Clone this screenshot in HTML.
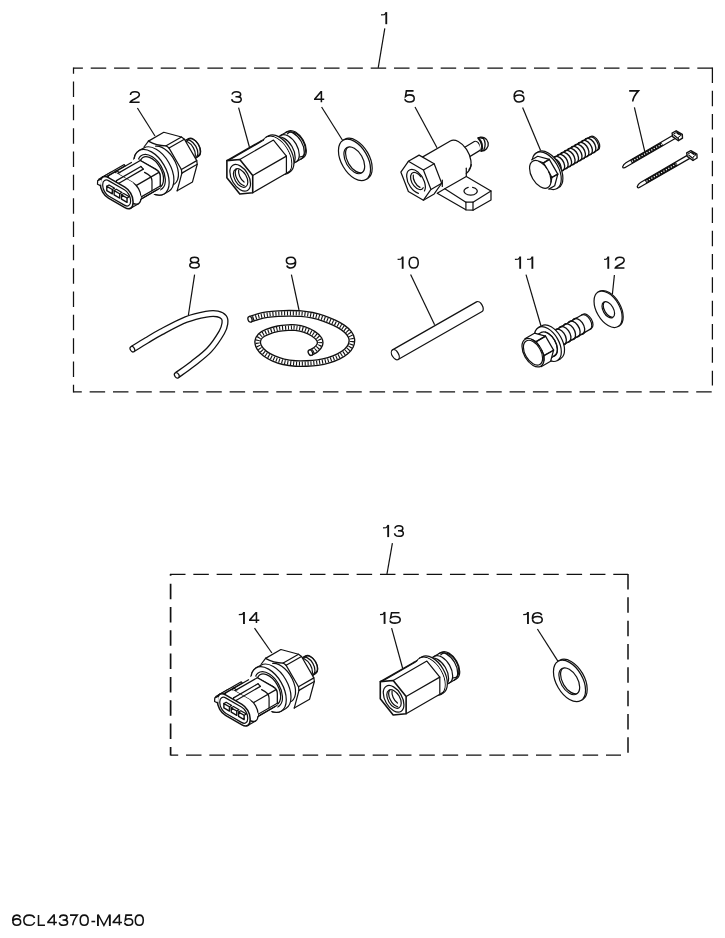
<!DOCTYPE html>
<html><head><meta charset="utf-8"><title>6CL4370-M450</title>
<style>
html,body{margin:0;padding:0;background:#fff;}
svg{display:block;}
body{font-family:"Liberation Sans",sans-serif;}
</style></head>
<body>
<svg width="725" height="938" viewBox="0 0 725 938">
<rect width="725" height="938" fill="#fff"/>

<g fill="none" stroke="#111" stroke-width="1.25" stroke-dasharray="15.5 7.83">
<line x1="73.5" y1="68" x2="712.4" y2="68" stroke-dashoffset="6.1"/>
<line x1="73.5" y1="391.8" x2="712" y2="391.8" stroke-dashoffset="7.2"/>
<line x1="73.5" y1="67.4" x2="73.5" y2="392.4" stroke-dashoffset="9.2"/>
<line x1="712.4" y1="67.4" x2="712.4" y2="385.5" stroke-dashoffset="0"/>
<line x1="170" y1="574.4" x2="628" y2="574.4" stroke-dashoffset="0" stroke-width="1.1"/>
<line x1="170.6" y1="755" x2="621" y2="755" stroke-dashoffset="7.9"/>
<line x1="170.6" y1="574" x2="170.6" y2="755.6" stroke-dashoffset="13.7" stroke-width="1.7"/>
<line x1="628" y1="574" x2="628" y2="753.2" stroke-dashoffset="0" stroke-width="1.5"/>
</g>
<g fill="none" stroke="#111" stroke-width="1.2" stroke-linecap="butt"><line x1="384.8" y1="28.3" x2="378.2" y2="67.9"/><line x1="137.4" y1="108" x2="155" y2="136"/><line x1="238.6" y1="107.6" x2="249.4" y2="147"/><line x1="321.6" y1="107" x2="343" y2="141"/><line x1="415" y1="107" x2="437" y2="147.8"/><line x1="522.6" y1="107.4" x2="540.6" y2="150.4"/><line x1="634.4" y1="107.4" x2="644.8" y2="151.6"/><line x1="194.6" y1="274.6" x2="188.4" y2="315"/><line x1="291.4" y1="274.6" x2="299" y2="310"/><line x1="410.6" y1="274.6" x2="434.6" y2="324.7"/><line x1="526" y1="274.6" x2="541" y2="326"/><line x1="614.4" y1="275" x2="612.4" y2="294"/><line x1="392.4" y1="543.1" x2="386.9" y2="574.3"/><line x1="254.5" y1="628.1" x2="271.9" y2="653"/><line x1="391.6" y1="628.1" x2="402.7" y2="668.5"/><line x1="537.4" y1="629" x2="558.2" y2="661.6"/></g>
<g fill="none" stroke="#111" stroke-width="1.55" stroke-linejoin="miter" stroke-linecap="butt">
<path d="M386.27,12.10 L386.27,24.20" stroke-width="1.86"/><path d="M381.00,14.94 L384.27,14.69 Q385.47,14.24 385.87,12.70" stroke-width="1.24"/>
<path d="M 130.46,94.95 C 130.46,92.73 132.06,91.68 134.90,91.68 C 137.74,91.68 139.34,92.84 139.34,94.73 C 139.34,96.74 137.26,97.69 134.71,98.95 C 132.06,100.22 130.46,101.06 130.18,102.23 L 139.62,102.23"/>
<path d="M 232.15,94.52 C 232.34,92.73 233.95,91.68 236.41,91.68 C 239.15,91.68 240.66,92.84 240.66,94.42 C 240.66,96.00 239.24,96.74 237.16,96.74 L 235.46,96.74 M 237.16,96.74 C 239.71,96.74 241.22,97.69 241.22,99.38 C 241.22,101.17 239.34,102.23 236.50,102.23 C 233.66,102.23 231.96,101.17 231.78,99.17"/>
<path d="M 321.39,102.23 L 321.39,91.68 L 320.92,91.68 L 314.77,98.95 L 314.77,99.27 L 324.22,99.27"/>
<path d="M 413.56,90.88 L 406.38,90.88 L 405.53,96.51 C 406.57,95.41 407.89,94.85 409.59,94.85 C 412.33,94.85 414.22,96.29 414.22,98.39 C 414.22,100.60 412.33,101.93 409.50,101.93 C 406.95,101.93 405.25,100.93 404.87,99.16"/>
<path d="M 523.44,93.45 C 522.95,91.78 521.49,90.78 519.25,90.78 C 516.03,90.78 514.17,93.01 514.17,96.68 C 514.17,100.14 516.03,101.93 519.15,101.93 C 521.98,101.93 523.93,100.59 523.93,98.36 C 523.93,96.24 521.98,94.90 519.25,94.90 C 516.61,94.90 514.56,96.24 514.27,97.91"/>
<path d="M 629.17,90.88 L 638.43,90.88 C 635.10,94.50 633.06,98.22 632.69,101.53"/>
<path d="M 194.50,257.27 C 191.95,257.27 190.44,258.35 190.44,259.96 C 190.44,261.57 191.95,262.54 194.50,262.54 C 197.05,262.54 198.56,261.57 198.56,259.96 C 198.56,258.35 197.05,257.27 194.50,257.27 Z M 194.50,262.54 C 191.66,262.54 189.78,263.62 189.78,265.34 C 189.78,266.95 191.66,268.02 194.50,268.02 C 197.34,268.02 199.22,266.95 199.22,265.34 C 199.22,263.62 197.34,262.54 194.50,262.54 Z"/>
<path d="M 286.84,265.44 C 287.30,267.06 288.69,268.02 290.81,268.02 C 293.87,268.02 295.62,265.88 295.62,262.33 C 295.62,259.00 293.87,257.27 290.91,257.27 C 288.22,257.27 286.38,258.56 286.38,260.71 C 286.38,262.76 288.22,264.05 290.81,264.05 C 293.31,264.05 295.25,262.76 295.53,261.14"/>
<path d="M402.67,256.50 L402.67,268.80" stroke-width="1.86"/><path d="M397.60,259.39 L400.67,259.14 Q401.87,258.69 402.27,257.10" stroke-width="1.24"/>
<path d="M 413.70,257.27 C 410.98,257.27 409.17,259.42 409.17,262.65 C 409.17,265.88 410.98,268.02 413.70,268.02 C 416.41,268.02 418.22,265.88 418.22,262.65 C 418.22,259.42 416.41,257.27 413.70,257.27 Z"/>
<path d="M520.17,256.50 L520.17,268.80" stroke-width="1.86"/><path d="M514.90,259.39 L518.17,259.14 Q519.37,258.69 519.77,257.10" stroke-width="1.24"/>
<path d="M532.37,256.50 L532.37,268.80" stroke-width="1.86"/><path d="M527.10,259.39 L530.37,259.14 Q531.57,258.69 531.97,257.10" stroke-width="1.24"/>
<path d="M608.27,256.50 L608.27,268.80" stroke-width="1.86"/><path d="M604.10,259.39 L606.27,259.14 Q607.47,258.69 607.87,257.10" stroke-width="1.24"/>
<path d="M 615.55,260.61 C 615.55,258.35 617.11,257.27 619.85,257.27 C 622.60,257.27 624.15,258.46 624.15,260.39 C 624.15,262.44 622.14,263.40 619.67,264.69 C 617.11,265.98 615.55,266.84 615.27,268.02 L 624.43,268.02"/>
<path d="M388.17,524.90 L388.17,537.10" stroke-width="1.86"/><path d="M383.00,527.77 L386.17,527.52 Q387.37,527.07 387.77,525.50" stroke-width="1.24"/>
<path d="M 394.93,528.55 C 395.10,526.74 396.59,525.67 398.86,525.67 C 401.40,525.67 402.80,526.85 402.80,528.44 C 402.80,530.04 401.49,530.79 399.56,530.79 L 397.99,530.79 M 399.56,530.79 C 401.93,530.79 403.32,531.75 403.32,533.45 C 403.32,535.26 401.57,536.33 398.95,536.33 C 396.32,536.33 394.75,535.26 394.57,533.24"/>
<path d="M243.97,611.90 L243.97,623.90" stroke-width="1.86"/><path d="M238.80,614.72 L241.97,614.47 Q243.17,614.02 243.57,612.50" stroke-width="1.24"/>
<path d="M 256.46,623.12 L 256.46,612.67 L 255.98,612.67 L 249.78,619.89 L 249.78,620.20 L 259.33,620.20"/>
<path d="M384.57,611.90 L384.57,623.90" stroke-width="1.86"/><path d="M380.00,614.72 L382.57,614.47 Q383.77,614.02 384.17,612.50" stroke-width="1.24"/>
<path d="M 399.49,612.67 L 391.55,612.67 L 390.61,618.00 C 391.76,616.96 393.22,616.44 395.10,616.44 C 398.13,616.44 400.22,617.80 400.22,619.78 C 400.22,621.87 398.13,623.12 395.00,623.12 C 392.18,623.12 390.30,622.18 389.88,620.51"/>
<path d="M527.97,611.90 L527.97,623.90" stroke-width="1.86"/><path d="M523.20,614.72 L525.97,614.47 Q527.17,614.02 527.57,612.50" stroke-width="1.24"/>
<path d="M 541.73,615.18 C 541.24,613.62 539.76,612.67 537.50,612.67 C 534.25,612.67 532.38,614.76 532.38,618.21 C 532.38,621.45 534.25,623.12 537.40,623.12 C 540.25,623.12 542.23,621.87 542.23,619.78 C 542.23,617.80 540.25,616.54 537.50,616.54 C 534.84,616.54 532.77,617.80 532.47,619.36"/>
<path d="M 20.28,917.56 C 19.88,916.04 18.69,915.12 16.86,915.12 C 14.24,915.12 12.72,917.15 12.72,920.50 C 12.72,923.65 14.24,925.27 16.78,925.27 C 19.08,925.27 20.67,924.06 20.67,922.03 C 20.67,920.10 19.08,918.88 16.86,918.88 C 14.71,918.88 13.04,920.10 12.80,921.62"/>
<path d="M 34.58,918.07 C 33.82,916.14 31.89,915.12 29.42,915.12 C 25.98,915.12 23.83,917.15 23.83,920.20 C 23.83,923.25 25.98,925.27 29.42,925.27 C 32.00,925.27 33.93,924.16 34.58,922.13"/>
<path d="M 38.52,915.12 L 38.52,925.27 L 44.98,925.27"/>
<path d="M 54.19,925.27 L 54.19,915.12 L 53.74,915.12 L 47.93,922.13 L 47.93,922.43 L 56.88,922.43"/>
<path d="M 59.66,917.87 C 59.82,916.14 61.22,915.12 63.37,915.12 C 65.76,915.12 67.08,916.24 67.08,917.76 C 67.08,919.29 65.84,920.00 64.03,920.00 L 62.54,920.00 M 64.03,920.00 C 66.25,920.00 67.58,920.91 67.58,922.53 C 67.58,924.26 65.92,925.27 63.45,925.27 C 60.98,925.27 59.49,924.26 59.33,922.33"/>
<path d="M 70.02,915.12 L 77.27,915.12 C 74.66,918.58 73.07,922.13 72.78,925.27"/>
<path d="M 84.20,915.12 C 81.81,915.12 80.22,917.15 80.22,920.20 C 80.22,923.25 81.81,925.27 84.20,925.27 C 86.58,925.27 88.17,923.25 88.17,920.20 C 88.17,917.15 86.58,915.12 84.20,915.12 Z"/>
<path d="M 91.42,921.52 L 95.17,921.52"/>
<path d="M97.94,914.40 L97.94,926.00 M109.86,914.40 L109.86,926.00" stroke-width="1.89"/><path d="M98.34,914.70 L103.90,925.40 L109.46,914.70" stroke-width="1.38"/>
<path d="M 119.35,925.27 L 119.35,915.12 L 118.91,915.12 L 113.22,922.13 L 113.22,922.43 L 121.97,922.43"/>
<path d="M 132.11,915.12 L 125.99,915.12 L 125.27,920.30 C 126.15,919.29 127.28,918.78 128.73,918.78 C 131.06,918.78 132.68,920.10 132.68,922.03 C 132.68,924.06 131.06,925.27 128.65,925.27 C 126.48,925.27 125.03,924.36 124.71,922.74"/>
<path d="M 139.30,915.12 C 136.91,915.12 135.32,917.15 135.32,920.20 C 135.32,923.25 136.91,925.27 139.30,925.27 C 141.69,925.27 143.28,923.25 143.28,920.20 C 143.28,917.15 141.69,915.12 139.30,915.12 Z"/>
</g>
<g fill="none" stroke="#111" stroke-width="1.22" stroke-linejoin="round" stroke-linecap="round">

<!-- p02.frag -->
<g id="sensor">
<path d="M173.05,148.27 L188.5,138.57 A10.2,5.89 60 0 1 198.7,156.23 L183.25,165.93 Z" fill="#fff"/>
<path d="M187.52,140.62 A9.49,5.48 60 1 1 196.95,156.04" />
<path d="M185.13,140.56 A10.2,5.89 60 1 1 195.29,158.16" />
<path d="M182.62,142.01 A10.2,5.89 60 1 1 192.78,159.61" />
<path d="M148.45,141.1 L163.8,132.25 L183.4,137.5 L197.75,162.35 L192.5,181.95 L177.15,190.8 L157.55,185.55 L143.2,160.7 Z" fill="#fff" stroke="none"/>
<path d="M148.45,141.1 L163.8,132.25 L181.47,136.98 L184.4,139.23 L196.75,160.62 L197.23,164.28 L192.5,181.95 L177.15,190.8" />
<line x1="166.12" y1="145.83" x2="181.47" y2="136.98" />
<line x1="169.05" y1="148.08" x2="184.4" y2="139.23" />
<line x1="166.12" y1="145.83" x2="169.05" y2="148.08" />
<line x1="181.4" y1="169.47" x2="196.75" y2="160.62" />
<line x1="181.88" y1="173.13" x2="197.23" y2="164.28" />
<line x1="181.4" y1="169.47" x2="181.88" y2="173.13" />
<line x1="169.05" y1="148.08" x2="181.4" y2="169.47" />
<line x1="181.88" y1="173.13" x2="177.15" y2="190.8" />
<path d="M148.45,141.1 Q156.29,145.66 166.12,145.83" />
<line x1="148.45" y1="141.1" x2="144" y2="147" />
<path d="M155.63,146.11 A21.5,12.41 60 1 1 169.66,185.32" />
<path d="M139,150.65 L143.8,147.95 A25,14.43 60 0 1 168.8,191.25 L164,193.95 A25,14.43 60 0 1 139,150.65 Z" fill="#fff"/>
<ellipse cx="151.5" cy="172.3" rx="25" ry="14.43" transform="rotate(60 151.5 172.3)" fill="#fff"/>
<path d="M137.85,161.64 A19.6,11.32 60 1 1 153.91,189.45" />
<path d="M140.61,160.14 A17,9.81 60 1 1 156.58,187.81" />
<path d="M112.58,171.85 L136.31,158.15 L160.21,171.95 L160.21,190.55 L136.48,204.25 L112.58,190.45 Z" fill="#fff" stroke="none"/>
<path d="M140.29,160.45 L156.23,169.65 A5.63,3.25 60 0 1 160.21,176.55 L160.21,185.95 A5.63,3.25 60 0 1 156.23,188.25 L140.29,179.05 A5.63,3.25 60 0 1 136.31,172.15 L136.31,162.75 A5.63,3.25 60 0 1 140.29,160.45 Z" fill="#fff"/>
<path d="M112.58,171.85 L136.31,158.15 L160.21,171.95 L160.21,190.55 L136.48,204.25 L112.58,190.45 Z" fill="#fff" stroke="none"/>
<line x1="116.56" y1="174.15" x2="140.29" y2="160.45" />
<line x1="135.18" y1="186.1" x2="158.91" y2="172.4" />
<line x1="136.48" y1="199.65" x2="160.21" y2="185.95" />
<line x1="134.32" y1="203" x2="158.05" y2="189.3" />
<line x1="136.05" y1="202" x2="159.78" y2="188.3" />
<path d="M156.23,169.65 A5.63,3.25 60 0 1 160.21,176.55 L160.21,185.95" />
<line x1="140.29" y1="160.45" x2="156.23" y2="169.65" />
<path d="M144.54,172.4 L148,174.4 A5.63,3.25 60 0 1 151.98,181.3 L151.98,190.7" />
<path d="M116.3,173 L132.76,182.5 A11.51,6.65 60 0 1 140.9,196.6 L140.9,198.4 A11.51,6.65 60 0 1 132.76,203.1 L116.3,193.6 A11.51,6.65 60 0 1 108.16,179.5 L108.16,177.7 A11.51,6.65 60 0 1 116.3,173 Z" fill="#fff"/>
<path d="M100.28,182.25 L108.16,177.7 L116.3,173 L132.76,182.5 L140.9,196.6 L140.9,198.4 L132.76,203.1 L124.88,207.65 Z" fill="#fff" stroke="none"/>
<line x1="102.67" y1="176.98" x2="110.55" y2="172.43" />
<line x1="130.63" y1="208.22" x2="138.51" y2="203.67" />
<path d="M98.68,179.28 L124.23,164.53 L125.23,165.78 L99.68,180.53 Z" fill="#fff"/>
<line x1="107.64" y1="176.2" x2="131.46" y2="162.45" />
<line x1="116.04" y1="170.55" x2="119.85" y2="172.75" />
<line x1="116.48" y1="180.6" x2="140.9" y2="166.5" />
<line x1="118.9" y1="183.2" x2="143.32" y2="169.1" />
<line x1="140.9" y1="166.5" x2="143.32" y2="169.1" />
<path d="M116.48,180.6 q-0.6,1.8 0.3,3.4" />
<path d="M118.9,183.2 q-0.6,1.8 0.3,3.4" />
<path d="M108.42,177.55 L124.88,187.05 A11.51,6.65 60 0 1 133.02,201.15 L133.02,202.95 A11.51,6.65 60 0 1 124.88,207.65 L108.42,198.15 A11.51,6.65 60 0 1 100.28,184.05 L100.28,182.25 A11.51,6.65 60 0 1 108.42,177.55 Z" fill="#fff" stroke-width="1.55"/>
<path d="M108.94,180.85 L124.36,189.75 A8.82,5.09 60 0 1 130.59,200.55 L130.59,201.55 A8.82,5.09 60 0 1 124.36,205.15 L108.94,196.25 A8.82,5.09 60 0 1 102.71,185.45 L102.71,184.45 A8.82,5.09 60 0 1 108.94,180.85 Z" />
<path d="M101.48,178.85 L97.68,180.65 L97.48,184.25 L100.48,185.65" fill="#fff"/>
<path d="M106.78,186.3 L112.32,189.5 L112.32,193.9 L106.78,190.7 Z" stroke-width="1.4"/>
<path d="M106.78,186.3 L109.03,185 L114.57,188.2 L112.32,189.5" stroke-width="1.3"/>
<path d="M114.14,190.55 L119.68,193.75 L119.68,198.15 L114.14,194.95 Z" stroke-width="1.4"/>
<path d="M114.14,190.55 L116.39,189.25 L121.93,192.45 L119.68,193.75" stroke-width="1.3"/>
<path d="M121.5,194.8 L127.04,198 L127.04,202.4 L121.5,199.2 Z" stroke-width="1.4"/>
<path d="M121.5,194.8 L123.75,193.5 L129.29,196.7 L127.04,198" stroke-width="1.3"/>
</g>

<!-- p03.frag -->
<g id="adapter">
<path d="M271.47,140.75 L287.92,131.25 A15.3,8.83 60 0 1 303.22,157.75 L286.77,167.25" fill="#fff"/>
<path d="M287.36,133.96 A13.7,7.91 60 1 1 299.84,156.9" />
<path d="M285.58,132.61 A15.3,8.83 60 1 1 300.87,159.1" />
<path d="M280.64,135.46 A15.3,8.83 60 1 1 295.94,161.95" />
<path d="M276.49,137.86 A15.3,8.83 60 1 1 291.78,164.35" />
<path d="M266.37,137.11 L268.62,135.81 A21,12.12 60 0 1 289.62,172.19 L287.37,173.49" fill="#fff"/>
<ellipse cx="276.87" cy="155.3" rx="21" ry="12.12" transform="rotate(60 276.87 155.3)" fill="#fff"/>
<path d="M263.29,139.58 L266.67,137.63 A20.4,11.78 60 0 1 287.07,172.97 L283.69,174.92 Z" fill="#fff" stroke="none"/>
<line x1="260.57" y1="141.18" x2="264.01" y2="139.3" />
<line x1="286.41" y1="173.32" x2="289.73" y2="171.3" />
<path d="M226.88,160.63 L260.57,141.18 L273.49,140.02 L286.41,156.1 L286.41,173.32 L252.72,192.77 L239.8,193.93 L226.88,177.85 Z" fill="#fff" stroke="none"/>
<path d="M226.88,160.63 L260.57,141.18" />
<path d="M239.8,159.47 L273.49,140.02 L286.41,156.1 L286.41,173.32 L252.72,192.77" />
<line x1="252.72" y1="175.55" x2="286.41" y2="156.1" />
<line x1="228.43" y1="160.49" x2="262.12" y2="141.04" />
<path d="M252.72,192.77 L252.72,175.55 L239.8,159.47 L226.88,160.63 L226.88,177.85 L239.8,193.93 Z" fill="#fff" stroke-width="1.6"/>
<ellipse cx="240.2" cy="177.8" rx="14.6" ry="8.43" transform="rotate(60 240.2 177.8)" />
<ellipse cx="240.6" cy="178" rx="10.2" ry="5.89" transform="rotate(60 240.6 178)" />
<path d="M236.28,169.18 A10,5.77 60 0 0 244.23,185.74" />
<path d="M238.65,170.09 A9.4,5.43 60 0 0 244.05,182.09" />
</g>

<!-- p04.frag -->
<g id="washers">
<path d="M343.15,140.24 L344.8,139.29 A22.7,13.11 60 0 1 367.5,178.61 L365.85,179.56" fill="#fff"/>
<ellipse cx="354.5" cy="159.9" rx="22.7" ry="13.11" transform="rotate(60 354.5 159.9)" fill="#fff"/>
<clipPath id="wc1"><ellipse cx="354.3" cy="160.3" rx="14.7" ry="8.49" transform="rotate(60 354.3 160.3)" /></clipPath>
<g clip-path="url(#wc1)"><ellipse cx="355.95" cy="159.35" rx="14.7" ry="8.49" transform="rotate(60 355.95 159.35)" /></g>
<ellipse cx="354.3" cy="160.3" rx="14.7" ry="8.49" transform="rotate(60 354.3 160.3)" /><path d="M598.15,292.07 L599.36,291.37 A19.9,11.49 60 0 1 619.26,325.83 L618.05,326.53" fill="#fff"/>
<ellipse cx="608.1" cy="309.3" rx="19.9" ry="11.49" transform="rotate(60 608.1 309.3)" fill="#fff"/>
<clipPath id="wc2"><ellipse cx="608.3" cy="309.8" rx="8.9" ry="5.14" transform="rotate(60 608.3 309.8)" /></clipPath>
<g clip-path="url(#wc2)"><ellipse cx="609.51" cy="309.1" rx="8.9" ry="5.14" transform="rotate(60 609.51 309.1)" /></g>
<ellipse cx="608.3" cy="309.8" rx="8.9" ry="5.14" transform="rotate(60 608.3 309.8)" /><path d="M558.15,661.24 L559.8,660.29 A22.7,13.11 60 0 1 582.5,699.61 L580.85,700.56" fill="#fff"/>
<ellipse cx="569.5" cy="680.9" rx="22.7" ry="13.11" transform="rotate(60 569.5 680.9)" fill="#fff"/>
<clipPath id="wc3"><ellipse cx="569.3" cy="681.3" rx="14.7" ry="8.49" transform="rotate(60 569.3 681.3)" /></clipPath>
<g clip-path="url(#wc3)"><ellipse cx="570.95" cy="680.35" rx="14.7" ry="8.49" transform="rotate(60 570.95 680.35)" /></g>
<ellipse cx="569.3" cy="681.3" rx="14.7" ry="8.49" transform="rotate(60 569.3 681.3)" />
</g>

<!-- p05.frag -->
<g id="joint">
<path d="M454.84,153.3 L474.33,141.55 A5.25,3.03 60 0 1 479.58,150.65 L460.09,162.4" fill="#fff"/>
<path d="M478.4,137.9 A6.9,6.9 0 1 1 480.9,151.0 Z" fill="#fff" stroke="none"/>
<path d="M478.4,137.9 A6.9,6.9 0 1 1 480.9,151.0" stroke-width="1.35"/>
<path d="M478.3,138.0 Q483.8,144.4 481.4,150.8" stroke-width="2.0"/>
<path d="M483.4,138.4 Q486.6,143.6 483.9,149.6" stroke-width="1.3"/>
<path d="M480.2,137.6 L482.6,138.2" stroke-width="1.6"/>
<path d="M418.04,159.65 L450.3,141.03 A17.2,9.93 60 0 1 467.5,170.82 L435.24,189.45 Z" fill="#fff" stroke="none"/>
<path d="M418.04,159.65 L450.3,141.03 A17.2,9.93 60 0 1 469.1,169.46" />
<path d="M466.3,176.5 L466.3,168.2" />
<path d="M466.3,173.5 Q470.5,170 471.3,164.6" />
<path d="M444.8,188.8 L466.3,176.5 L491,191 L491,200 L473,210.2 L465.9,209.8 L437.2,193.2 Z" fill="#fff"/>
<path d="M444.8,188.8 L465.9,202.2 L473,202.2 L491,191" />
<line x1="465.9" y1="202.2" x2="465.9" y2="209.8" />
<line x1="473" y1="202.2" x2="473" y2="210.2" />
<path d="M468.2,187.4 A6.6,4.0 0 1 0 472.6,187.3" />
<path d="M400.84,172.05 L408.37,161.34 L419.11,155.14 L434.17,163.84 L441.7,183.25 L434.17,193.96 L423.43,200.16 L408.37,191.46 Z" fill="#fff" stroke="none"/>
<path d="M408.37,161.34 L419.11,155.14 L434.17,163.84 L441.7,183.25" />
<line x1="423.43" y1="170.04" x2="434.17" y2="163.84" />
<line x1="430.96" y1="189.45" x2="441.7" y2="183.25" />
<path d="M423.43,200.16 L434.17,193.96 L441.7,183.25" />
<line x1="442.3" y1="180.05" x2="442.3" y2="186.45" />
<path d="M430.96,189.45 L423.43,170.04 L408.37,161.34 L400.84,172.05 L408.37,191.46 L423.43,200.16 Z" fill="#fff"/>
<path d="M424.46,190.94 A13.2,7.62 60 1 0 418.42,193.31" />
<path d="M421.01,176.91 A9.4,5.43 60 1 0 423.22,187.72" />
<path d="M413.27,175.11 A8.8,5.08 60 0 0 419.94,187.37" />
</g>

<!-- p06.frag -->
<g id="bolts">
<path d="M544.55,163.17 L590.63,136.57 A7.6,4.39 60 0 1 598.23,149.73 L552.15,176.33" fill="#fff"/>
<path d="M589.22,137.39 A7.6,4.39 60 1 1 596.81,150.54" />
<path d="M547.13,161.34 A7.9,4.93 60 0 1 556.58,174.12" stroke-width="1.35"/>
<path d="M550.59,159.34 A7.9,4.93 60 0 1 560.04,172.12" stroke-width="1.35"/>
<path d="M554.05,157.34 A7.9,4.93 60 0 1 563.51,170.12" stroke-width="1.35"/>
<path d="M557.52,155.34 A7.9,4.93 60 0 1 566.97,168.12" stroke-width="1.35"/>
<path d="M560.98,153.34 A7.9,4.93 60 0 1 570.44,166.12" stroke-width="1.35"/>
<path d="M564.45,151.34 A7.9,4.93 60 0 1 573.9,164.12" stroke-width="1.35"/>
<path d="M567.91,149.34 A7.9,4.93 60 0 1 577.37,162.12" stroke-width="1.35"/>
<path d="M571.38,147.34 A7.9,4.93 60 0 1 580.83,160.12" stroke-width="1.35"/>
<path d="M574.84,145.34 A7.9,4.93 60 0 1 584.29,158.12" stroke-width="1.35"/>
<path d="M578.3,143.34 A7.9,4.93 60 0 1 587.76,156.12" stroke-width="1.35"/>
<path d="M581.77,141.34 A7.9,4.93 60 0 1 591.22,154.12" stroke-width="1.35"/>
<path d="M585.23,139.34 A7.9,4.93 60 0 1 594.69,152.12" stroke-width="1.35"/>
<path d="M546.46,162.07 Q547.64,160.12 549.92,160.07 Q551.11,158.12 553.39,158.07 Q554.57,156.12 556.85,156.07 Q558.03,154.12 560.32,154.07 Q561.5,152.12 563.78,152.07 Q564.96,150.12 567.24,150.07 Q568.43,148.12 570.71,148.07 Q571.89,146.12 574.17,146.07 Q575.35,144.12 577.64,144.07 Q578.82,142.12 581.1,142.07 Q582.28,140.12 584.56,140.07 Q585.75,138.12 588.03,138.07 " stroke-width="1.1"/>
<path d="M554.06,175.23 Q556.34,175.18 557.52,173.23 Q559.81,173.18 560.99,171.23 Q563.27,171.18 564.45,169.23 Q566.73,169.18 567.92,167.23 Q570.2,167.18 571.38,165.23 Q573.66,165.18 574.84,163.23 Q577.13,163.18 578.31,161.23 Q580.59,161.18 581.77,159.23 Q584.05,159.18 585.24,157.23 Q587.52,157.18 588.7,155.23 Q590.98,155.18 592.16,153.23 Q594.45,153.18 595.63,151.23 " stroke-width="1.1"/>
<path d="M536.41,152.86 L538.05,151.91 A20.6,11.89 60 0 1 558.65,187.59 L557.01,188.54" fill="#fff"/>
<ellipse cx="546.71" cy="170.7" rx="20.6" ry="11.89" transform="rotate(60 546.71 170.7)" fill="#fff"/>
<path d="M531.8,159.68 L537.69,156.28 L549.3,159.39 L557.8,174.11 L554.69,185.72 L548.8,189.12 L537.19,186.01 L528.69,171.29 Z" fill="#fff" stroke="none"/>
<path d="M531.8,159.68 L537.69,156.28 L549.3,159.39 L557.8,174.11 L554.69,185.72 L548.8,189.12" />
<line x1="543.32" y1="163.14" x2="549.3" y2="159.39" />
<line x1="551.56" y1="177.42" x2="557.8" y2="174.11" />
<ellipse cx="540.3" cy="174.4" rx="15.2" ry="8.78" transform="rotate(60 540.3 174.4)" fill="#fff"/>
<path d="M538.99,161.33 L543.41,162.79 L546.77,168.22" />
<line x1="543.41" y1="162.79" x2="549.3" y2="159.39" />
<path d="M548.88,171.89 L551.91,177.51 L550.97,182.07" />
<line x1="551.91" y1="177.51" x2="557.8" y2="174.11" />
<path d="M547.12,334.96 L582.98,314.26 A8.3,4.79 60 0 1 591.28,328.64 L555.42,349.34" fill="#fff"/>
<path d="M581.55,315.1 A8.3,4.79 60 1 1 589.84,329.45" />
<path d="M550.29,332.79 A8.6,5.36 60 0 1 560.44,346.78" stroke-width="1.35"/>
<path d="M554.88,330.14 A8.6,5.36 60 0 1 565.03,344.13" stroke-width="1.35"/>
<path d="M559.47,327.49 A8.6,5.36 60 0 1 569.62,341.48" stroke-width="1.35"/>
<path d="M564.06,324.84 A8.6,5.36 60 0 1 574.21,338.83" stroke-width="1.35"/>
<path d="M568.65,322.19 A8.6,5.36 60 0 1 578.8,336.18" stroke-width="1.35"/>
<path d="M573.24,319.54 A8.6,5.36 60 0 1 583.39,333.53" stroke-width="1.35"/>
<path d="M549.07,333.84 Q550.82,331.56 553.66,331.19 Q555.41,328.91 558.25,328.54 Q560,326.26 562.84,325.89 Q564.59,323.61 567.43,323.24 Q569.18,320.96 572.02,320.59 Q573.77,318.31 576.61,317.94 " stroke-width="1.1"/>
<path d="M557.37,348.21 Q560.22,347.84 561.96,345.56 Q564.81,345.19 566.55,342.91 Q569.4,342.54 571.14,340.26 Q573.99,339.89 575.73,337.61 Q578.58,337.24 580.32,334.96 Q583.17,334.59 584.91,332.31 " stroke-width="1.1"/>
<path d="M538.4,327.65 L541.77,325.7 A19,10.97 60 0 1 560.77,358.6 L557.4,360.55" fill="#fff"/>
<ellipse cx="547.9" cy="344.1" rx="19" ry="10.97" transform="rotate(60 547.9 344.1)" fill="#fff"/>
<path d="M535.78,335.51 L541.15,332.41 A13.5,7.79 60 0 1 554.65,355.79 L549.28,358.89" fill="#fff"/>
<path d="M545.42,332.03 A13.5,7.79 60 0 1 553.37,356.29" />
<path d="M524.9,338.67 L534.43,333.17 L545.49,336.14 L553.59,350.16 L550.63,361.23 L541.1,366.73 L530.04,363.76 L521.94,349.74 Z" fill="#fff" stroke="none"/>
<path d="M524.9,338.67 L534.43,333.17 L545.49,336.14 L553.59,350.16 L550.63,361.23 L541.1,366.73" />
<line x1="535.88" y1="341.97" x2="545.49" y2="336.14" />
<line x1="543.73" y1="355.58" x2="553.59" y2="350.16" />
<ellipse cx="533" cy="352.7" rx="15.6" ry="9.01" transform="rotate(60 533 352.7)" fill="#fff"/>
<path d="M531.66,339.28 L535.96,341.64 L539.64,346.36" />
<line x1="535.96" y1="341.64" x2="545.49" y2="336.14" />
<path d="M541.81,350.12 L544.06,355.66 L543.95,360.57" />
<line x1="544.06" y1="355.66" x2="553.59" y2="350.16" />
<ellipse cx="533" cy="352.7" rx="13.6" ry="7.85" transform="rotate(60 533 352.7)" />
</g>

<!-- p07.frag -->
<g id="ties">
<path d="M672.16,135.8 L625.92,162.7 Q623.32,164.15 622.63,166.95 Q622.97,169.15 626.44,166.7 L675.19,138.55" fill="#fff" stroke-width="1.25"/>
<line x1="631.03" y1="161.9" x2="662.2" y2="143.9" stroke-width="3.9" stroke-linecap="butt"/>
<line x1="631.89" y1="161.4" x2="661.77" y2="144.15" stroke="#fff" stroke-width="1.3" stroke-dasharray="1.2 1.6" stroke-linecap="butt"/>
<path d="M672.1,133 L676.2,130.8 L682.3,134.4 L682.5,138.2 L678.4,140.7 L672.6,136.6 Z" fill="#fff" stroke-width="1.4"/>
<path d="M673.4,134.2 L676.8,132.2 L681.4,135 L678.4,137.2 L678.4,140.7" stroke-width="1.0"/>
<line x1="674.1" y1="135.2" x2="677.8" y2="138.2" stroke-width="1.1"/>
<line x1="677.2" y1="133" x2="679.2" y2="134.4" stroke-width="1.6"/>
<path d="M686.76,155.6 L640.52,182.5 Q637.92,183.95 637.23,186.75 Q637.57,188.95 641.04,186.5 L689.79,158.35" fill="#fff" stroke-width="1.25"/>
<line x1="645.63" y1="181.7" x2="676.8" y2="163.7" stroke-width="3.9" stroke-linecap="butt"/>
<line x1="646.49" y1="181.2" x2="676.37" y2="163.95" stroke="#fff" stroke-width="1.3" stroke-dasharray="1.2 1.6" stroke-linecap="butt"/>
<path d="M686.7,152.8 L690.8,150.6 L696.9,154.2 L697.1,158 L693,160.5 L687.2,156.4 Z" fill="#fff" stroke-width="1.4"/>
<path d="M688,154 L691.4,152 L696,154.8 L693,157 L693,160.5" stroke-width="1.0"/>
<line x1="688.7" y1="155" x2="692.4" y2="158" stroke-width="1.1"/>
<line x1="691.8" y1="152.8" x2="693.8" y2="154.2" stroke-width="1.6"/>
</g>

<!-- p08.frag -->
<g id="hose">
<path d="M132.4,349.2 C134.75,347.75 141.67,343.4 146.5,340.5 C151.33,337.6 154.78,335.3 161.4,331.8 C168.02,328.3 178.75,322.43 186.2,319.5 C193.65,316.57 200.87,315.13 206.1,314.2 C211.33,313.27 214.63,313.37 217.6,313.9 C220.57,314.43 222.68,315.85 223.9,317.4 C225.12,318.95 225.25,320.72 224.9,323.2 C224.55,325.68 224.38,327.88 221.8,332.3 C219.22,336.72 214.23,344.47 209.4,349.7 C204.57,354.93 198.23,359.43 192.8,363.7 C187.37,367.97 179.47,373.37 176.8,375.3" stroke-width="7.1" stroke-linecap="butt"/>
<path d="M132.4,349.2 C134.75,347.75 141.67,343.4 146.5,340.5 C151.33,337.6 154.78,335.3 161.4,331.8 C168.02,328.3 178.75,322.43 186.2,319.5 C193.65,316.57 200.87,315.13 206.1,314.2 C211.33,313.27 214.63,313.37 217.6,313.9 C220.57,314.43 222.68,315.85 223.9,317.4 C225.12,318.95 225.25,320.72 224.9,323.2 C224.55,325.68 224.38,327.88 221.8,332.3 C219.22,336.72 214.23,344.47 209.4,349.7 C204.57,354.93 198.23,359.43 192.8,363.7 C187.37,367.97 179.47,373.37 176.8,375.3" stroke="#fff" stroke-width="4.5" stroke-linecap="butt"/>
<ellipse cx="132.4" cy="349.2" rx="2.09" ry="2.9" transform="rotate(-31.68 132.4 349.2)" fill="#fff"/>
<ellipse cx="176.8" cy="375.3" rx="2.09" ry="2.9" transform="rotate(-35.94 176.8 375.3)" fill="#fff"/>
</g>

<!-- p09.frag -->
<g id="corr">
<path d="M250,319.3 C251.37,318.85 255.35,317.37 258.2,316.6 C261.05,315.83 263.78,315.2 267.1,314.7 C270.42,314.2 274.43,313.83 278.1,313.6 C281.77,313.37 285.28,313.3 289.1,313.3 C292.92,313.3 297.17,313.28 301,313.6 C304.83,313.92 308.42,314.43 312.1,315.2 C315.78,315.97 319.43,316.95 323.1,318.2 C326.77,319.45 330.78,321.13 334.1,322.7 C337.42,324.27 340.52,325.87 343,327.6 C345.48,329.33 347.53,331.17 349,333.1 C350.47,335.03 351.52,337.08 351.8,339.2 C352.08,341.32 351.62,343.78 350.7,345.8 C349.78,347.82 348.32,349.55 346.3,351.3 C344.28,353.05 341.55,354.82 338.6,356.3 C335.65,357.78 332.1,359.15 328.6,360.2 C325.1,361.25 321.27,362.05 317.6,362.6 C313.93,363.15 310.28,363.35 306.6,363.5 C302.92,363.65 299.33,363.78 295.5,363.5 C291.67,363.22 287.23,362.63 283.6,361.8 C279.97,360.97 276.82,359.87 273.7,358.5 C270.58,357.13 267.3,355.43 264.9,353.6 C262.5,351.77 260.5,349.53 259.3,347.5 C258.1,345.47 257.52,343.33 257.7,341.4 C257.88,339.47 258.83,337.47 260.4,335.9 C261.97,334.33 264.15,333.2 267.1,332 C270.05,330.8 274.43,329.43 278.1,328.7 C281.77,327.97 286.2,327.78 289.1,327.6 C292,327.42 292.97,327.28 295.5,327.6 C298.03,327.92 301.35,328.48 304.3,329.5 C307.25,330.52 310.72,332.08 313.2,333.7 C315.68,335.32 318.1,337.37 319.2,339.2 C320.3,341.03 320.35,342.95 319.8,344.7 C319.25,346.45 317.47,348.37 315.9,349.7 C314.33,351.03 311.32,352.2 310.4,352.7" stroke-width="6.9" stroke-linecap="butt"/>
<path d="M250,319.3 C251.37,318.85 255.35,317.37 258.2,316.6 C261.05,315.83 263.78,315.2 267.1,314.7 C270.42,314.2 274.43,313.83 278.1,313.6 C281.77,313.37 285.28,313.3 289.1,313.3 C292.92,313.3 297.17,313.28 301,313.6 C304.83,313.92 308.42,314.43 312.1,315.2 C315.78,315.97 319.43,316.95 323.1,318.2 C326.77,319.45 330.78,321.13 334.1,322.7 C337.42,324.27 340.52,325.87 343,327.6 C345.48,329.33 347.53,331.17 349,333.1 C350.47,335.03 351.52,337.08 351.8,339.2 C352.08,341.32 351.62,343.78 350.7,345.8 C349.78,347.82 348.32,349.55 346.3,351.3 C344.28,353.05 341.55,354.82 338.6,356.3 C335.65,357.78 332.1,359.15 328.6,360.2 C325.1,361.25 321.27,362.05 317.6,362.6 C313.93,363.15 310.28,363.35 306.6,363.5 C302.92,363.65 299.33,363.78 295.5,363.5 C291.67,363.22 287.23,362.63 283.6,361.8 C279.97,360.97 276.82,359.87 273.7,358.5 C270.58,357.13 267.3,355.43 264.9,353.6 C262.5,351.77 260.5,349.53 259.3,347.5 C258.1,345.47 257.52,343.33 257.7,341.4 C257.88,339.47 258.83,337.47 260.4,335.9 C261.97,334.33 264.15,333.2 267.1,332 C270.05,330.8 274.43,329.43 278.1,328.7 C281.77,327.97 286.2,327.78 289.1,327.6 C292,327.42 292.97,327.28 295.5,327.6 C298.03,327.92 301.35,328.48 304.3,329.5 C307.25,330.52 310.72,332.08 313.2,333.7 C315.68,335.32 318.1,337.37 319.2,339.2 C320.3,341.03 320.35,342.95 319.8,344.7 C319.25,346.45 317.47,348.37 315.9,349.7 C314.33,351.03 311.32,352.2 310.4,352.7" stroke="#fff" stroke-width="4.2" stroke-linecap="butt"/>
<path d="M250,319.3 C251.37,318.85 255.35,317.37 258.2,316.6 C261.05,315.83 263.78,315.2 267.1,314.7 C270.42,314.2 274.43,313.83 278.1,313.6 C281.77,313.37 285.28,313.3 289.1,313.3 C292.92,313.3 297.17,313.28 301,313.6 C304.83,313.92 308.42,314.43 312.1,315.2 C315.78,315.97 319.43,316.95 323.1,318.2 C326.77,319.45 330.78,321.13 334.1,322.7 C337.42,324.27 340.52,325.87 343,327.6 C345.48,329.33 347.53,331.17 349,333.1 C350.47,335.03 351.52,337.08 351.8,339.2 C352.08,341.32 351.62,343.78 350.7,345.8 C349.78,347.82 348.32,349.55 346.3,351.3 C344.28,353.05 341.55,354.82 338.6,356.3 C335.65,357.78 332.1,359.15 328.6,360.2 C325.1,361.25 321.27,362.05 317.6,362.6 C313.93,363.15 310.28,363.35 306.6,363.5 C302.92,363.65 299.33,363.78 295.5,363.5 C291.67,363.22 287.23,362.63 283.6,361.8 C279.97,360.97 276.82,359.87 273.7,358.5 C270.58,357.13 267.3,355.43 264.9,353.6 C262.5,351.77 260.5,349.53 259.3,347.5 C258.1,345.47 257.52,343.33 257.7,341.4 C257.88,339.47 258.83,337.47 260.4,335.9 C261.97,334.33 264.15,333.2 267.1,332 C270.05,330.8 274.43,329.43 278.1,328.7 C281.77,327.97 286.2,327.78 289.1,327.6 C292,327.42 292.97,327.28 295.5,327.6 C298.03,327.92 301.35,328.48 304.3,329.5 C307.25,330.52 310.72,332.08 313.2,333.7 C315.68,335.32 318.1,337.37 319.2,339.2 C320.3,341.03 320.35,342.95 319.8,344.7 C319.25,346.45 317.47,348.37 315.9,349.7 C314.33,351.03 311.32,352.2 310.4,352.7" stroke-width="4.2" stroke-linecap="butt" stroke-dasharray="1.1 1.8"/>
<ellipse cx="250" cy="319.3" rx="2" ry="2.9" transform="rotate(-18.23 250 319.3)" fill="#fff" stroke-width="1.3"/>
<ellipse cx="310.4" cy="352.7" rx="2" ry="2.9" transform="rotate(-28.61 310.4 352.7)" fill="#fff" stroke-width="1.3"/>
</g>

<!-- p10.frag -->
<g id="rod">
<path d="M392.5,349.85 L476.5,301.85 A5.6,3.23 60 0 1 482.1,311.55 L398.1,359.55" fill="#fff"/>
<ellipse cx="395.3" cy="354.7" rx="5.6" ry="3.23" transform="rotate(60 395.3 354.7)" fill="#fff"/>
</g>

<!-- p14.frag -->
<use href="#sensor" transform="translate(117.1,517.25)"/>
<use href="#adapter" transform="translate(153.4,521)"/>

</g>
</svg>
</body></html>
